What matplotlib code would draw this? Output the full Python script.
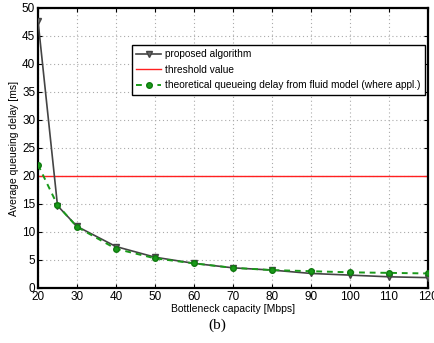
import matplotlib
matplotlib.use("Agg")
import matplotlib.pyplot as plt

capacity = [20, 25, 30, 40, 50, 60, 70, 80, 90, 100, 110, 120]
proposed = [47.7, 14.7, 11.0, 7.4, 5.5, 4.4, 3.6, 3.2, 2.6, 2.3, 2.0, 1.85]
theoretical = [22.0, 14.8, 10.9, 7.0, 5.3, 4.4, 3.6, 3.2, 3.0, 2.8, 2.7, 2.6]
threshold = 20
xticks = [20, 30, 40, 50, 60, 70, 80, 90, 100, 110, 120]
yticks = [0, 5, 10, 15, 20, 25, 30, 35, 40, 45, 50]

plt.rcParams['font.family'] = ['Liberation Sans', 'DejaVu Sans']
fig = plt.figure(figsize=(4.35, 3.43), dpi=100)
ax = fig.add_axes([38/435, 1-288/343, 390/435, 280/343])

ax.plot(capacity, proposed, color='#444444', lw=1.2, marker='v', ms=4,
        mfc='#666666', mec='#444444', label='proposed algorithm', zorder=3)
ax.plot([20, 120], [threshold, threshold], color='#ff2020', lw=1.0,
        label='threshold value', zorder=2)
ax.plot(capacity, theoretical, color='#1a9a1a', lw=1.4, ls=(0, (3, 2.5)),
        marker='o', ms=4, mfc='#1a9a1a', mec='#0f7a0f',
        label='theoretical queueing delay from fluid model (where appl.)', zorder=4)

ax.set_xlim(20, 120)
ax.set_ylim(0, 50)
ax.set_xticks(xticks)
ax.set_yticks(yticks)
ax.tick_params(direction='in', top=True, right=True, labelsize=8.5, length=3, pad=2)
ax.grid(True, ls=(0, (1, 2.5)), color='#aaaaaa', lw=0.8)
for s in ax.spines.values():
    s.set_linewidth(1.6)

ax.set_xlabel('Bottleneck capacity [Mbps]', fontsize=7.5, labelpad=1)
ax.set_ylabel('Average queueing delay [ms]', fontsize=7.5, labelpad=2)

leg = ax.legend(loc='upper left', bbox_to_anchor=(0.228, 0.885), fontsize=7.3,
                frameon=True, fancybox=False, edgecolor='black', framealpha=1,
                handlelength=2.5, handletextpad=0.4, borderpad=0.4, labelspacing=0.55)
leg.get_frame().set_linewidth(1.0)

fig.text(0.5, 1 - 325/343, '(b)', ha='center', va='center', fontsize=11,
         family=['Liberation Serif', 'DejaVu Serif'])

fig.savefig('out.png', dpi=100)
